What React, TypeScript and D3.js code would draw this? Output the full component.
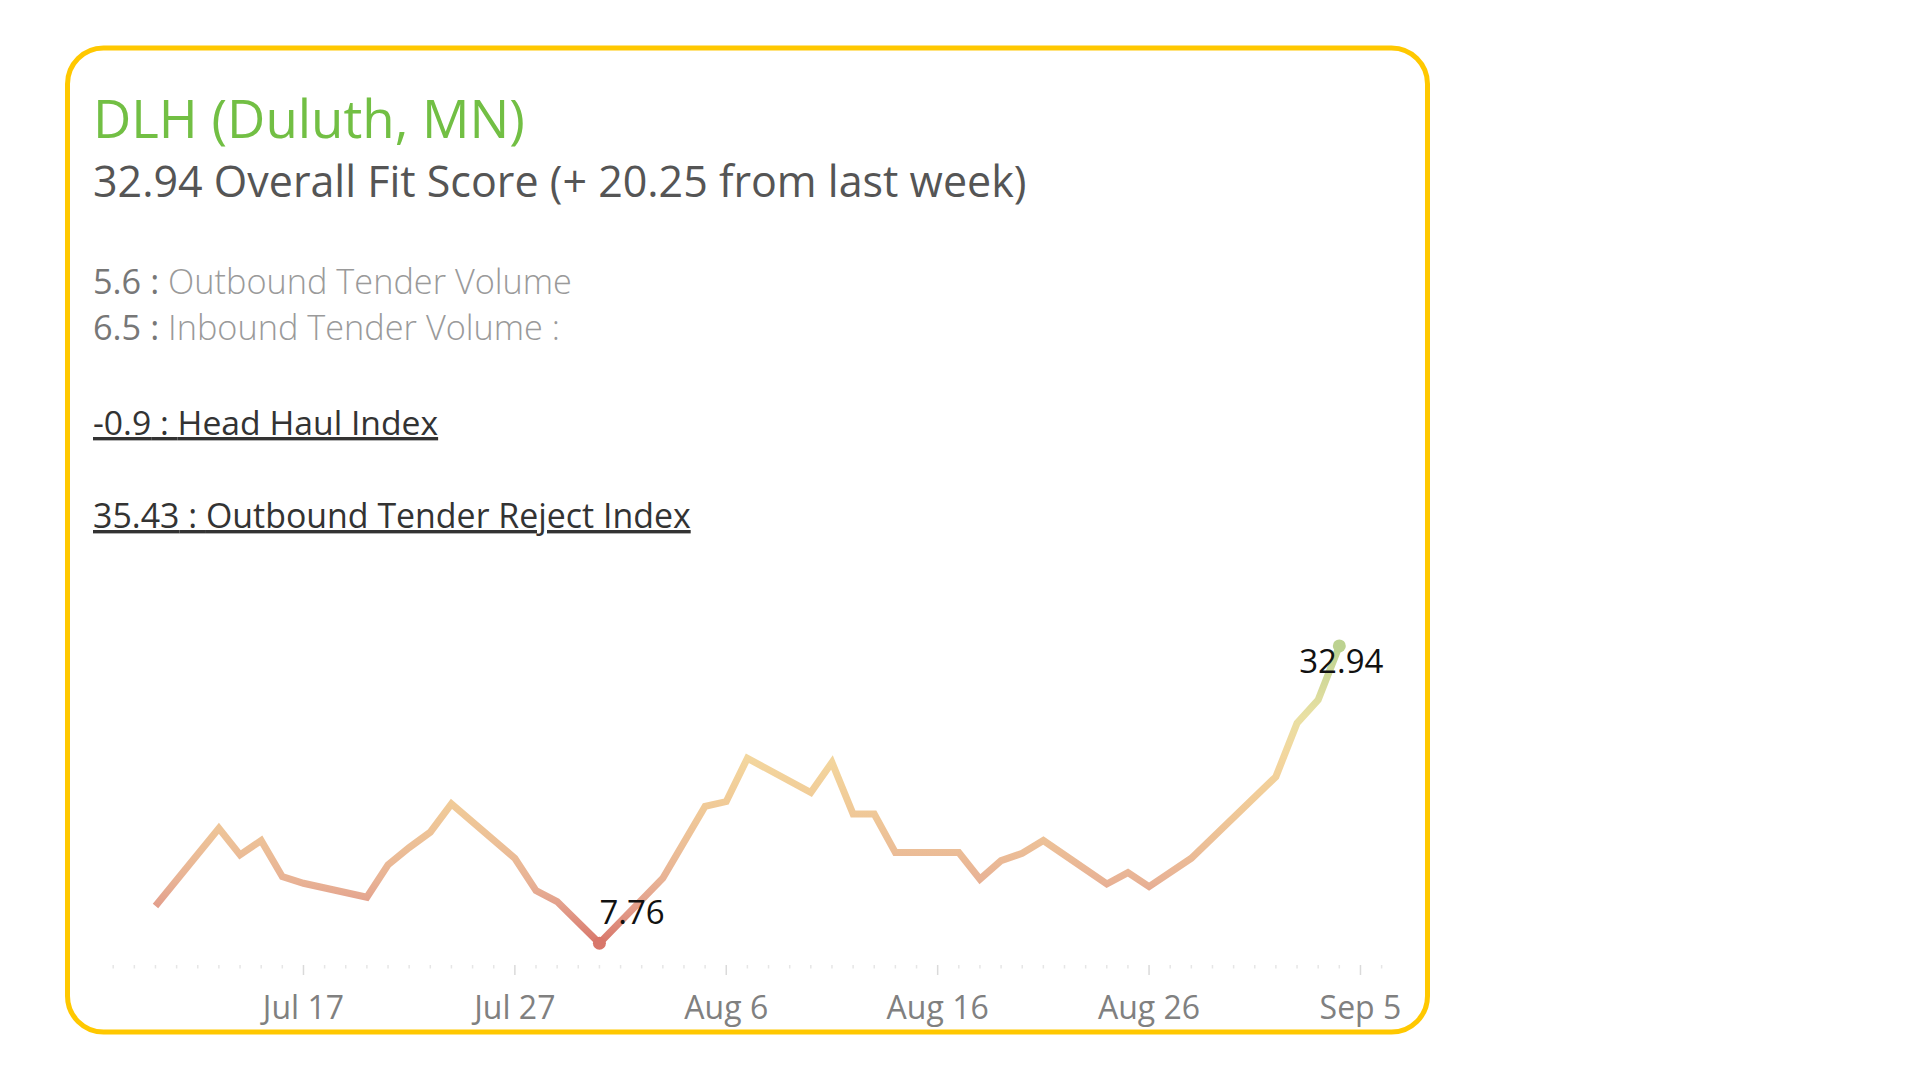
import React from "react";
import * as d3 from "d3";

// ---- data ----
const title = "DLH (Duluth, MN)";
const subtitle = "32.94 Overall Fit Score (+ 20.25 from last week)";
const metricValues = ["5.6", "6.5", "-0.9", "35.43"];
const metricLabels = ["Outbound Tender Volume", "Inbound Tender Volume :", "Head Haul Index", "Outbound Tender Reject Index"];

const dates = [
  "2023-07-10", "2023-07-13", "2023-07-14", "2023-07-15", "2023-07-16", "2023-07-17",
  "2023-07-20", "2023-07-21", "2023-07-22", "2023-07-23", "2023-07-24", "2023-07-27",
  "2023-07-28", "2023-07-29", "2023-07-31", "2023-08-03", "2023-08-05", "2023-08-06",
  "2023-08-07", "2023-08-10", "2023-08-11", "2023-08-12", "2023-08-13", "2023-08-14",
  "2023-08-17", "2023-08-18", "2023-08-19", "2023-08-20", "2023-08-21", "2023-08-24",
  "2023-08-25", "2023-08-26", "2023-08-28", "2023-09-01", "2023-09-02", "2023-09-03",
  "2023-09-04",
];
const scores = [
  10.91, 17.5, 15.25, 16.46, 13.4, 12.84,
  11.66, 14.4, 15.86, 17.17, 19.56, 14.96,
  12.22, 11.29, 7.76, 13.27, 19.36, 19.76,
  23.43, 20.53, 23.07, 18.71, 18.71, 15.44,
  15.44, 13.19, 14.76, 15.38, 16.46, 12.78,
  13.74, 12.56, 14.96, 21.87, 26.4, 28.37,
  32.94,
];
const axisStart = "2023-07-08";
const axisEnd = "2023-09-06";
const firstLabel = "2023-07-17";

const colorValues = [7.76, 11, 13, 16, 20, 23.5, 27, 32.94];
const colorStops = ["#d8766a", "#e3a08c", "#e8b295", "#ecbf97", "#f1cc98", "#f3d69e", "#e9e0a3", "#bcd290"];

const FONT = "'Open Sans', 'Noto Sans', sans-serif";

export default function App() {
  const parse = d3.utcParse("%Y-%m-%d");
  const data = dates.map((d, i) => ({ date: parse(d) as Date, value: scores[i] }));

  const x = d3
    .scaleUtc()
    .domain([parse(axisStart) as Date, parse(axisEnd) as Date])
    .range([113.2, 1381.6]);
  const y = d3.scaleLinear().domain([5.7, 34]).range([967.6, 633.4]);
  const color = d3.scaleLinear<string>().domain(colorValues).range(colorStops).interpolate(d3.interpolateRgb);

  const line = d3
    .line<{ date: Date; value: number }>()
    .x((d) => x(d.date))
    .y((d) => y(d.value));

  const vMin = d3.min(scores) as number;
  const vMax = d3.max(scores) as number;
  const minPt = data[scores.indexOf(vMin)];
  const maxPt = data[scores.indexOf(vMax)];

  const g1 = y(vMin);
  const g2 = y(vMax);

  const allDays = d3.utcDay.range(parse(axisStart) as Date, d3.utcDay.offset(parse(axisEnd) as Date, 1));
  const labelStart = parse(firstLabel) as Date;
  const isMajor = (d: Date) => {
    const diff = Math.round((+d - +labelStart) / 86400000);
    return diff >= 0 && diff % 10 === 0;
  };
  const fmt = d3.utcFormat("%b %-d");

  return (
    <svg
      width={1920}
      height={1080}
      style={{ position: "absolute", left: 0, top: 0, background: "#ffffff" }}
      fontFamily={FONT}
    >
      <defs>
        <linearGradient id="scoreGrad" gradientUnits="userSpaceOnUse" x1={0} x2={0} y1={g1} y2={g2}>
          {colorValues.map((v, i) => (
            <stop key={i} offset={(y(v) - g1) / (g2 - g1)} stopColor={colorStops[i]} />
          ))}
        </linearGradient>
      </defs>

      <rect x={67.5} y={48} width={1360} height={984} rx={36} ry={36} fill="#fff" stroke="#ffc800" strokeWidth={5} />

      <text x={93} y={138} fontSize={52.8} fill="#72bf44">
        {title}
      </text>
      <text x={93} y={197} fontSize={43} fill="#555555">
        {subtitle}
      </text>

      <text x={93} y={294} fontSize={34.3}>
        <tspan fill="#777777">{metricValues[0]} : </tspan>
        <tspan fill="#9a9a9a" fontWeight={300}>{metricLabels[0]}</tspan>
      </text>
      <text x={93} y={340} fontSize={34.3}>
        <tspan fill="#777777">{metricValues[1]} : </tspan>
        <tspan fill="#9a9a9a" fontWeight={300}>{metricLabels[1]}</tspan>
      </text>
      <text x={93} y={435} fontSize={33.7} fill="#333333" style={{ textDecoration: "underline" }}>
        {metricValues[2]} : {metricLabels[2]}
      </text>
      <text x={93} y={528} fontSize={33.9} fill="#333333" style={{ textDecoration: "underline" }}>
        {metricValues[3]} : {metricLabels[3]}
      </text>

      {/* axis ticks */}
      <g>
        {allDays.map((d, i) => (
          <line
            key={i}
            x1={x(d)}
            x2={x(d)}
            y1={965}
            y2={isMajor(d) ? 975 : 968.5}
            stroke={isMajor(d) ? "#dadada" : "#e6e6e6"}
            strokeWidth={1.5}
          />
        ))}
        {allDays.filter(isMajor).map((d, i) => (
          <text key={i} x={x(d)} y={1019} textAnchor="middle" fontSize={32} fill="#808080">
            {fmt(d)}
          </text>
        ))}
      </g>

      {/* line */}
      <path
        d={line(data) || ""}
        fill="none"
        stroke="url(#scoreGrad)"
        strokeWidth={7}
        strokeLinejoin="miter"
        strokeLinecap="butt"
      />
      <circle cx={x(minPt.date)} cy={y(minPt.value)} r={6.5} fill={color(minPt.value)} />
      <circle cx={x(maxPt.date)} cy={y(maxPt.value)} r={6.5} fill={color(maxPt.value)} />

      <text x={x(minPt.date)} y={y(minPt.value) - 19} fontSize={33} fill="#111111">
        {vMin.toFixed(2)}
      </text>
      <text x={x(maxPt.date) + 2} y={y(maxPt.value) + 27} fontSize={33} fill="#111111" textAnchor="middle">
        {vMax.toFixed(2)}
      </text>
    </svg>
  );
}
